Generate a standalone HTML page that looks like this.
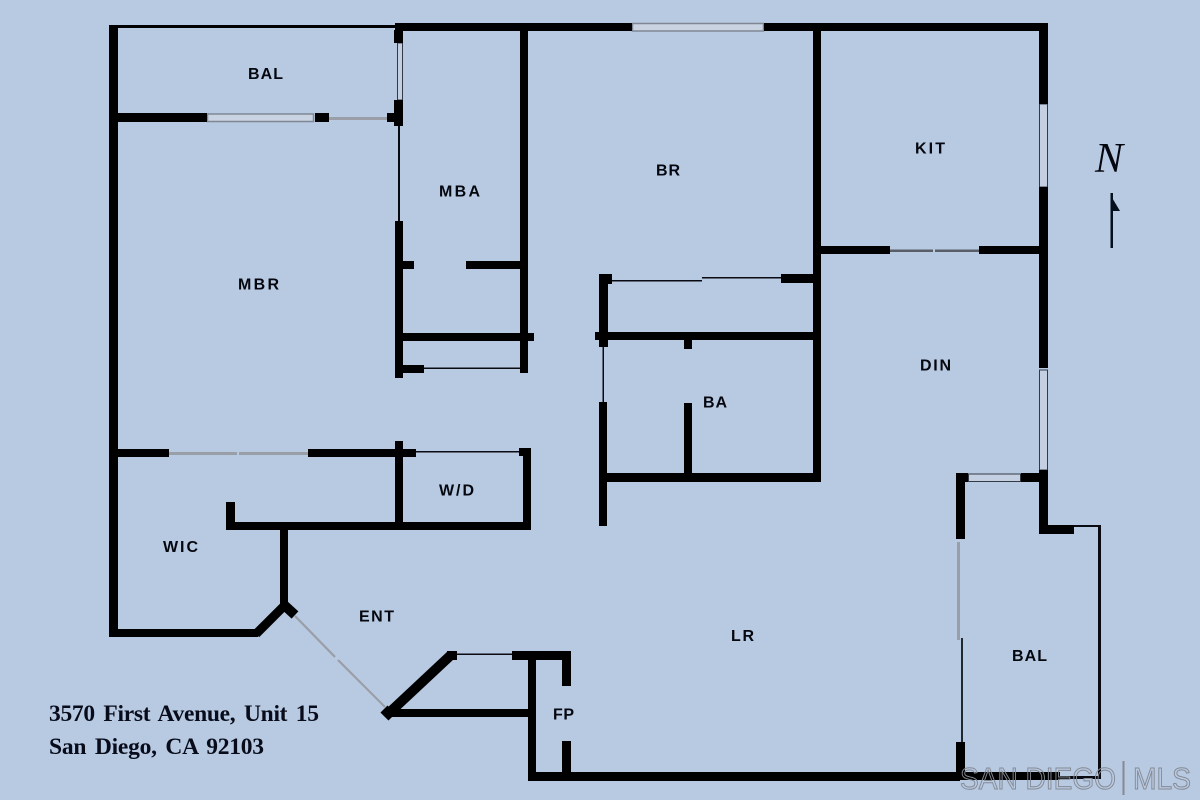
<!DOCTYPE html>
<html lang="en">
<head>
<meta charset="utf-8">
<title>Floor plan - 3570 First Avenue, Unit 15</title>
<style>
html,body{margin:0;padding:0;background:#b8c9e2;width:1200px;height:800px;overflow:hidden}
svg{display:block}
.l{font-family:"Liberation Sans",sans-serif;font-weight:700;font-size:16px;fill:#05070f}
.a{font-family:"Liberation Serif",serif;font-weight:700;font-size:23.5px;word-spacing:3px;fill:#080c1a}
</style>
</head>
<body>
<svg width="1200" height="800" viewBox="0 0 1200 800" xmlns="http://www.w3.org/2000/svg">
<rect width="1200" height="800" fill="#b8c9e2"/>

<g fill="#c9d3e1" stroke="#7f8794" stroke-width="1.5">
<rect x="632.5" y="23.5" width="131" height="7.5"/>
<rect x="207.5" y="114" width="106" height="7.5"/>
</g>
<g fill="#c4d0e2" stroke="#333a46" stroke-width="1">
<rect x="397.5" y="43" width="5" height="57"/>
<rect x="968.5" y="474" width="52" height="7.5"/>
<rect x="1039.5" y="104" width="8" height="83"/>
<rect x="1039.5" y="370" width="8" height="100"/>
</g>

<g fill="#000">
<rect x="109" y="26" width="9" height="611"/>
<rect x="109" y="25" width="287" height="3"/>
<rect x="395" y="23" width="237" height="8"/>
<rect x="764" y="23" width="284" height="8"/>
<rect x="1039" y="23" width="9" height="81"/>
<rect x="1039" y="187" width="9" height="181"/>
<rect x="1039" y="470" width="9" height="64"/>
<rect x="1039" y="525" width="35" height="9"/>
<rect x="118" y="113" width="89" height="9"/>
<rect x="315" y="113" width="14" height="9"/>
<rect x="387" y="113" width="8" height="9"/>
<rect x="394" y="100" width="9" height="26"/>
<rect x="394" y="30" width="9" height="13"/>
<rect x="395" y="221" width="8" height="157"/>
<rect x="403" y="261" width="11" height="8"/>
<rect x="466" y="261" width="55" height="8"/>
<rect x="520" y="30" width="8" height="343"/>
<rect x="403" y="333" width="131" height="8"/>
<rect x="403" y="365" width="21" height="8"/>
<rect x="813" y="30" width="8" height="452"/>
<rect x="821" y="246" width="69" height="8"/>
<rect x="979" y="246" width="61" height="8"/>
<rect x="599" y="274" width="9" height="73"/>
<rect x="599" y="274" width="13" height="10"/>
<rect x="781" y="274" width="32" height="9"/>
<rect x="595" y="332" width="218" height="8"/>
<rect x="684" y="340" width="8" height="9"/>
<rect x="599" y="402" width="8" height="124"/>
<rect x="607" y="473" width="214" height="9"/>
<rect x="684" y="403" width="8" height="70"/>
<rect x="118" y="449" width="51" height="8"/>
<rect x="308" y="449" width="108" height="8"/>
<rect x="395" y="441" width="8" height="81"/>
<rect x="519" y="448" width="12" height="8"/>
<rect x="523" y="448" width="8" height="82"/>
<rect x="226" y="522" width="305" height="8"/>
<rect x="226" y="502" width="9" height="25"/>
<rect x="280" y="527" width="8" height="79"/>
<rect x="109" y="629" width="149" height="8"/>
<rect x="388" y="709" width="140" height="8"/>
<rect x="528" y="651" width="8" height="130"/>
<rect x="512" y="651" width="59" height="9"/>
<rect x="562" y="651" width="9" height="35"/>
<rect x="562" y="741" width="9" height="33"/>
<rect x="528" y="772" width="432" height="9"/>
<rect x="956" y="772" width="104" height="8"/>
<rect x="956" y="742" width="9" height="34"/>
<rect x="956" y="473" width="9" height="66"/>
<rect x="956" y="473" width="12" height="9"/>
<rect x="1021" y="473" width="19" height="9"/>
<rect x="447" y="651" width="10" height="9"/>
</g>

<g stroke="#000" stroke-width="9" fill="none">
<path d="M256 634 L284 606"/>
<path d="M283 604 L295 615" stroke-width="10"/>
<path d="M389 713 L451 655" stroke-width="10"/>
<path d="M384 709 L392 717" stroke-width="10"/>
</g>

<g fill="#0a0a12">
<rect x="398" y="126" width="2" height="95"/>
<rect x="424" y="367.5" width="96" height="1.5"/>
<rect x="612" y="280" width="90" height="1.5"/>
<rect x="702" y="277" width="79" height="1.5"/>
<rect x="602.5" y="347" width="1.5" height="55"/>
<rect x="416" y="451" width="103" height="1.5"/>
<rect x="457" y="653.5" width="55" height="1.5"/>
<rect x="1074" y="525" width="27" height="2"/>
<rect x="1098" y="525" width="3" height="254"/>
<rect x="1060" y="776" width="41" height="3"/>
<rect x="961" y="638" width="2" height="104" fill="#22262e"/>
</g>

<g fill="#9a9ea6">
<rect x="329" y="117" width="58" height="3"/>
<rect x="169" y="452" width="68" height="3"/>
<rect x="239" y="452" width="69" height="3"/>
<rect x="957" y="542" width="3" height="98"/>
</g>
<g fill="#5a5e66">
<rect x="890" y="249.5" width="43" height="2.5"/>
<rect x="935" y="249.5" width="44" height="2.5"/>
</g>
<g stroke="#9a9ea6" stroke-width="2.2" fill="none">
<path d="M295 616 L335 657"/>
<path d="M338 660 L385 707"/>
</g>

<text class="l" x="248" y="79" textLength="35">BAL</text>
<text class="l" x="238" y="289.5" textLength="41">MBR</text>
<text class="l" x="439" y="196.5" textLength="41">MBA</text>
<text class="l" x="656" y="175.5" textLength="24">BR</text>
<text class="l" x="915" y="153.5" textLength="30">KIT</text>
<text class="l" x="920" y="370.5" textLength="31">DIN</text>
<text class="l" x="703" y="407.5" textLength="24">BA</text>
<text class="l" x="439" y="495.5" textLength="35">W/D</text>
<text class="l" x="163" y="552" textLength="35">WIC</text>
<text class="l" x="359" y="621.5" textLength="35">ENT</text>
<text class="l" x="731" y="641" textLength="23">LR</text>
<text class="l" x="553" y="719.5" textLength="21">FP</text>
<text class="l" x="1012" y="661" textLength="35">BAL</text>

<text class="a" x="49" y="721" textLength="270" lengthAdjust="spacing">3570 First Avenue, Unit 15</text>
<text class="a" x="49" y="754" textLength="215" lengthAdjust="spacing">San Diego, CA  92103</text>

<text x="1095" y="172" font-family="'Liberation Serif',serif" font-style="italic" font-size="42" fill="#05070f">N</text>
<rect x="1110.5" y="193" width="2.5" height="55" fill="#05101f"/>
<path d="M1111 196 L1120 211 L1111 211 Z" fill="#05101f"/>

<g font-family="'Liberation Sans',sans-serif" font-size="31" fill="none" stroke="#858a93" stroke-width="1">
<text x="960" y="789" textLength="156" lengthAdjust="spacingAndGlyphs">SAN DIEGO</text>
<text x="1133" y="789" textLength="58" lengthAdjust="spacingAndGlyphs">MLS</text>
</g>
<rect x="1122.5" y="761" width="2" height="34" fill="#858a93"/>
</svg>
</body>
</html>
